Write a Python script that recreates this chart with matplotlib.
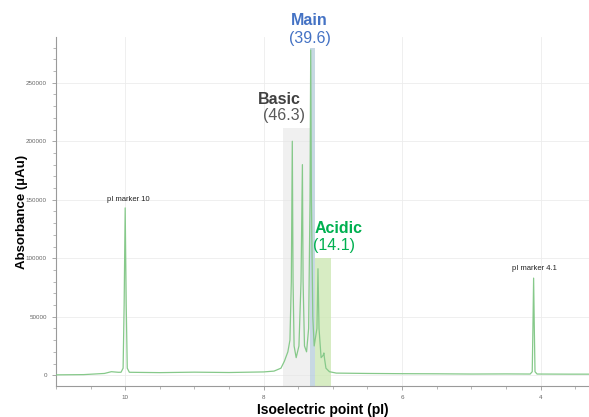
import matplotlib
matplotlib.use("Agg")
import matplotlib.pyplot as plt
from matplotlib.ticker import MultipleLocator

plt.rcParams['font.family'] = ['Liberation Sans', 'DejaVu Sans']

# electropherogram trace (pI, absorbance in µAu)
trace_pi = [11.0, 10.6, 10.3, 10.2, 10.1, 10.06, 10.03, 10.015, 10.0, 9.985, 9.97, 9.94,
            9.5, 9.0, 8.5, 8.0, 7.85, 7.75, 7.70, 7.65, 7.62, 7.60, 7.586, 7.575, 7.56,
            7.53, 7.49, 7.46, 7.44, 7.43, 7.41, 7.38, 7.35, 7.33, 7.32, 7.31, 7.29,
            7.27, 7.23, 7.215, 7.20, 7.17, 7.14, 7.13, 7.12, 7.10, 7.05, 6.95, 6.5,
            6.0, 5.5, 5.0, 4.5, 4.15, 4.12, 4.11, 4.10, 4.09, 4.08, 4.05, 3.6, 3.3]
trace_abs = [300, 500, 1500, 3000, 2500, 2500, 6000, 60000, 143000, 60000, 6000, 2500,
             2200, 2600, 2300, 2800, 3500, 6000, 12000, 20000, 30000, 80000, 200000, 80000, 25000,
             15000, 25000, 80000, 180000, 80000, 25000, 20000, 40000, 150000, 278000, 150000, 50000,
             25000, 40000, 91000, 40000, 15000, 17000, 19000, 14000, 6000, 3000, 1800, 1500,
             1300, 1200, 1000, 1100, 1000, 3000, 40000, 83000, 40000, 3000, 1000, 900, 900]

# charge variant regions
region_names = ["Basic", "Main", "Acidic"]
region_pct = ["46.3", "39.6", "14.1"]
region_left = [7.72, 7.33, 7.26]
region_right = [7.33, 7.26, 7.03]
region_top = [211000, 280000, 100000]

markers = ["pI marker 10", "pI marker 4.1"]
marker_pi = [9.96, 4.09]
marker_y = [150500, 91000]

fig = plt.figure(figsize=(5.89, 4.17), dpi=100)
ax = fig.add_axes([0.095, 0.074, 0.905, 0.837])

ybot = -9350
fills = ["#e6e6e6", "#b9cfdc", "#cde8b4"]
alphas = [0.6, 0.8, 0.8]
for l, r, t, c, a in zip(region_left, region_right, region_top, fills, alphas):
    ax.bar(r, t - ybot, width=l - r, bottom=ybot, align="edge", color=c, alpha=a,
           linewidth=0, zorder=1)

ax.plot(trace_pi, trace_abs, color="#86c98a", lw=0.9, zorder=3)

# region labels
name_col = ["#404040", "#4472c4", "#00b050"]
pct_col = ["#595959", "#4472c4", "#00b050"]
name_xy = [(7.78, 236000), (7.335, 303000), (6.92, 125000)]
pct_xy = [(7.71, 222000), (7.335, 288000), (6.99, 110500)]
for n, p, nc, pc, nxy, pxy in zip(region_names, region_pct, name_col, pct_col, name_xy, pct_xy):
    ax.text(*nxy, n, color=nc, fontsize=11.5, fontweight="bold", ha="center", va="center",
            clip_on=False, zorder=5)
    ax.text(*pxy, f"({p})", color=pc, fontsize=11.5, ha="center", va="center",
            clip_on=False, zorder=5)

for m, mx, my in zip(markers, marker_pi, marker_y):
    ax.text(mx, my, m, fontsize=5.5, ha="center", va="center", color="#222222", zorder=5)

ax.set_xlim(11.0, 3.3)
ax.set_ylim(ybot, 289000)
ax.xaxis.set_major_locator(MultipleLocator(2))
ax.xaxis.set_minor_locator(MultipleLocator(0.5))
ax.yaxis.set_major_locator(MultipleLocator(50000))
ax.yaxis.set_minor_locator(MultipleLocator(10000))
ax.grid(True, which="major", color="#ececec", lw=0.6, zorder=0)
ax.set_axisbelow(True)

for s in ["top", "right"]:
    ax.spines[s].set_visible(False)
for s in ["left", "bottom"]:
    ax.spines[s].set_color("#9a9a9a")
    ax.spines[s].set_linewidth(0.8)
ax.tick_params(which="both", colors="#9a9a9a", labelcolor="#666666", labelsize=4.5)
ax.tick_params(which="major", length=3, width=0.6)
ax.tick_params(which="minor", length=2, width=0.5)

ax.set_xlabel("Isoelectric point (pI)", fontsize=10, fontweight="bold", labelpad=2)
ax.set_ylabel("Absorbance (µAu)", fontsize=9.5, fontweight="bold")
ax.yaxis.set_label_coords(-0.053, 0.5)

fig.savefig("out.png", dpi=100)
